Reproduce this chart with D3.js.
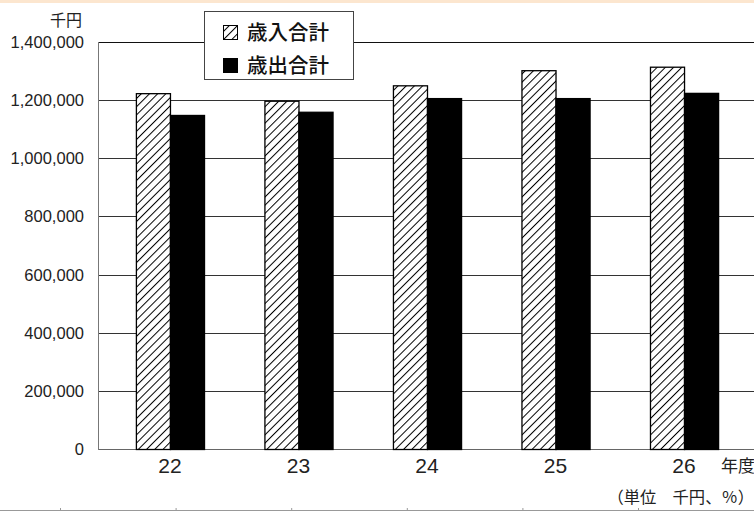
<!DOCTYPE html>
<html>
<head>
<meta charset="utf-8">
<script src="https://cdn.jsdelivr.net/npm/d3@7"></script>
<style>
  body { margin: 0; background: #fff; }
  text { font-family: "Liberation Sans", Arial, sans-serif; }
  .jp { font-family: "Noto Sans CJK JP", sans-serif; }
</style>
</head>
<body>
<script>
// Data (thousand yen)
const years = ["22", "23", "24", "25", "26"];
const revenue = [1224000, 1198000, 1251000, 1303000, 1315000];
const expenditure = [1149000, 1160000, 1207000, 1207000, 1225000];
const yTicks = [0, 200000, 400000, 600000, 800000, 1000000, 1200000, 1400000];
const seriesNames = ["歳入合計", "歳出合計"];

// Setup:
const width = 754;
const height = 511;
const plotLeft = 98;
const plotTop = 42;
const plotBottom = 449;

const svg = d3.select("body").append("svg")
  .attr("width", width)
  .attr("height", height);

// hatch pattern
const defs = svg.append("defs");
const pat = defs.append("pattern")
  .attr("id", "hatch")
  .attr("patternUnits", "userSpaceOnUse")
  .attr("width", 5.8)
  .attr("height", 5.8)
  .attr("patternTransform", "rotate(45)");
pat.append("rect").attr("width", 5.8).attr("height", 5.8).attr("fill", "#fff");
pat.append("line")
  .attr("x1", 0.5).attr("y1", 0).attr("x2", 0.5).attr("y2", 5.8)
  .attr("stroke", "#000").attr("stroke-width", 1);

// top band
svg.append("rect").attr("x", 0).attr("y", 0).attr("width", width).attr("height", 3)
  .attr("fill", "#fce6cf");

// Scales:
const yScale = d3.scaleLinear().domain([0, 1400000]).range([plotBottom, plotTop]);
const xScale = d3.scaleBand().domain(years).range([105.7, 748.3])
  .paddingInner(0.47).paddingOuter(0.235);
const xSub = d3.scaleBand().domain([0, 1]).range([0, xScale.bandwidth()]);

// Gridlines
svg.append("g")
  .selectAll("line")
  .data(yTicks)
  .join("line")
  .attr("x1", plotLeft)
  .attr("x2", width)
  .attr("y1", (d) => Math.round(yScale(d)) + 0.5)
  .attr("y2", (d) => Math.round(yScale(d)) + 0.5)
  .attr("stroke", (d) => (d === 0 ? "#666" : d === 1400000 ? "#111" : "#333"))
  .attr("stroke-width", 1);

// y axis line
svg.append("line")
  .attr("x1", plotLeft + 0.5).attr("x2", plotLeft + 0.5)
  .attr("y1", plotTop).attr("y2", plotBottom + 1)
  .attr("stroke", "#777");

// y labels
svg.append("g")
  .selectAll("text")
  .data(yTicks)
  .join("text")
  .attr("x", 84)
  .attr("y", (d) => yScale(d) + 6)
  .attr("text-anchor", "end")
  .attr("font-size", 16.5)
  .attr("fill", "#222")
  .text((d) => d3.format(",")(d));

svg.append("text")
  .attr("class", "jp")
  .attr("x", 82).attr("y", 26)
  .attr("text-anchor", "end")
  .attr("font-size", 16)
  .attr("fill", "#222")
  .text("千円");

// Bars
const rows = years.map((y, i) => ({ year: y, vals: [revenue[i], expenditure[i]] }));
const groups = svg.append("g")
  .selectAll("g")
  .data(rows)
  .join("g")
  .attr("transform", (d) => `translate(${xScale(d.year)},0)`);

groups.selectAll("rect")
  .data((d) => d.vals.map((v, k) => ({ v, k })))
  .join("rect")
  .attr("x", (d) => xSub(d.k) + 0.5)
  .attr("y", (d) => yScale(d.v) + 0.5)
  .attr("width", xSub.bandwidth())
  .attr("height", (d) => plotBottom - yScale(d.v))
  .attr("fill", (d) => (d.k === 0 ? "url(#hatch)" : "#000"))
  .attr("stroke", "#000")
  .attr("stroke-width", 1.3);

// x labels
svg.append("g")
  .selectAll("text")
  .data(years)
  .join("text")
  .attr("x", (d) => xScale(d) + xScale.bandwidth() / 2)
  .attr("y", 473)
  .attr("text-anchor", "middle")
  .attr("font-size", 21)
  .attr("fill", "#222")
  .text((d) => d);

svg.append("text")
  .attr("class", "jp")
  .attr("x", 755).attr("y", 472)
  .attr("text-anchor", "end")
  .attr("font-size", 17)
  .attr("fill", "#222")
  .text("年度");

svg.append("text")
  .attr("class", "jp")
  .attr("x", 754).attr("y", 503)
  .attr("text-anchor", "end")
  .attr("font-size", 16.3)
  .attr("fill", "#222")
  .text("（単位　千円、％）");

// bottom table fragment
svg.append("line").attr("x1", 0).attr("x2", width).attr("y1", 510.5).attr("y2", 510.5)
  .attr("stroke", "#999");
svg.append("g")
  .selectAll("line")
  .data(d3.range(6))
  .join("line")
  .attr("x1", (i) => 60.5 + i * 115.6)
  .attr("x2", (i) => 60.5 + i * 115.6)
  .attr("y1", 508)
  .attr("y2", 511)
  .attr("stroke", "#999");

// Legend
const legend = svg.append("g").attr("transform", "translate(204,11)");
legend.append("rect")
  .attr("x", 0.5).attr("y", 0.5).attr("width", 149).attr("height", 68)
  .attr("fill", "#fff").attr("stroke", "#444").attr("stroke-width", 1);
const items = legend.selectAll("g")
  .data(seriesNames)
  .join("g")
  .attr("transform", (d, i) => `translate(19,${12 + i * 33})`);
items.append("rect")
  .attr("x", 0.5).attr("y", 2.5).attr("width", 14).attr("height", 14)
  .attr("fill", (d, i) => (i === 0 ? "url(#hatch)" : "#000"))
  .attr("stroke", "#000");
items.append("text")
  .attr("class", "jp")
  .attr("x", 24)
  .attr("y", 17)
  .attr("font-size", 20.5)
  .attr("font-weight", 500)
  .attr("fill", "#111")
  .text((d) => d);
</script>
</body>
</html>
